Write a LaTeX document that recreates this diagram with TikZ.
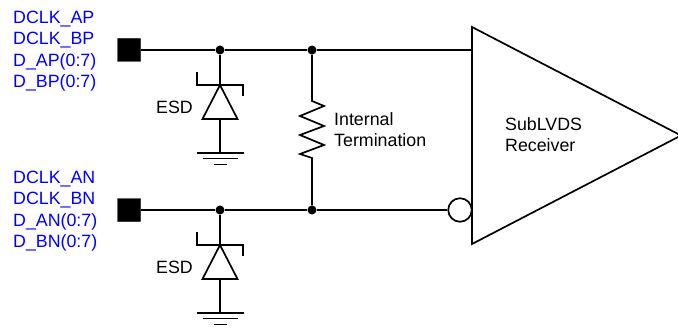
\documentclass[tikz,border=0pt]{standalone}
\usepackage{fontspec}
\setmainfont{Liberation Sans}
\usetikzlibrary{calc}
\definecolor{sigblue}{RGB}{0,0,255}
\tikzset{
  wire/.style = {line width=1.7pt, black},
  pad/.style = {rectangle, fill=black, draw=black, rounded corners=0.5pt, minimum size=23pt, inner sep=0pt},
  junction/.style = {circle, fill=black, minimum size=9pt, inner sep=0pt},
  bubble/.style = {circle, draw=black, fill=white, line width=1.7pt, minimum size=23.5pt, inner sep=0pt},
  siglabel/.style = {align=left, anchor=west, inner sep=0pt, text=sigblue, font=\fontsize{17.8}{21.4}\selectfont},
  txtlabel/.style = {align=left, anchor=west, inner sep=0pt, font=\fontsize{17.8}{21.4}\selectfont},
  esd/.pic = {
    \coordinate (-top) at (0,0);
    % zener bar and body
    \draw[wire] (-23,-13) -- (-23,0) -- (23,0) -- (23,11);
    \draw[wire, line join=miter] (0,0) -- (17.5,34) -- (-17.5,34) -- cycle;
    % ground
    \draw[wire] (0,34) -- (0,68);
    \draw[wire] (-23.5,68) -- (23.5,68);
    \draw[wire] (-17.5,73.5) -- (17.5,73.5);
    \draw[wire] (-6.5,79.5) -- (6.5,79.5);
  }
}
\begin{document}
\begin{tikzpicture}[x=1pt, y=-1pt]
    \useasboundingbox (0,0) rectangle (678,329);
    \clip (0,0) rectangle (678,329);

    \node[pad] (padtop) at (129,50) {};
    \node[pad] (padbot) at (129,210) {};
    \node[junction] (esdtopj) at (220,50) {};
    \node[junction] (esdbotj) at (220,210) {};
    \node[junction] (restopj) at (312,50) {};
    \node[junction] (resbotj) at (312,210) {};

    % receiver
    \coordinate (rxtop) at (472,27);
    \coordinate (rxbot) at (472,244);
    \coordinate (rxtip) at (681,135.5);
    \coordinate (rxp) at (472,50);
    \draw[wire, line join=miter] (rxtop) -- (rxtip) -- (rxbot) -- cycle;
    \node[bubble] (rxn) at (460,210) {};

    % wires
    \draw[wire] (padtop) -- (esdtopj) -- (restopj) -- (rxp);
    \draw[wire] (padbot) -- (esdbotj) -- (resbotj) -- (rxn);

    % termination
    \coordinate (resa) at (312,101);
    \coordinate (resb) at (312,158);
    \draw[wire] (restopj) -- (resa) -- (324,106) -- (300,116) -- (324,126) -- (300,135) -- (324,145) -- (300,154) -- (resb) -- (resbotj);

    % esd clamps
    \pic (esdtop) at (220,85) {esd};
    \pic (esdbot) at (220,245) {esd};
    \draw[wire] (esdtopj) -- (esdtop-top);
    \draw[wire] (esdbotj) -- (esdbot-top);

    \node[siglabel] (sigtop) at (13,51) {DCLK\_AP\\DCLK\_BP\\D\_AP(0:7)\\D\_BP(0:7)};
    \node[siglabel] (sigbot) at (13,211) {DCLK\_AN\\DCLK\_BN\\D\_AN(0:7)\\D\_BN(0:7)};
    \node[txtlabel] (esdtoptxt) at (156,107) {ESD};
    \node[txtlabel] (esdbottxt) at (156,267) {ESD};
    \node[txtlabel] (restxt) at (334,129.5) {Internal\\Termination};
    \node[txtlabel] (rxtxt) at (505,134.5) {SubLVDS\\Receiver};
\end{tikzpicture}
\end{document}
